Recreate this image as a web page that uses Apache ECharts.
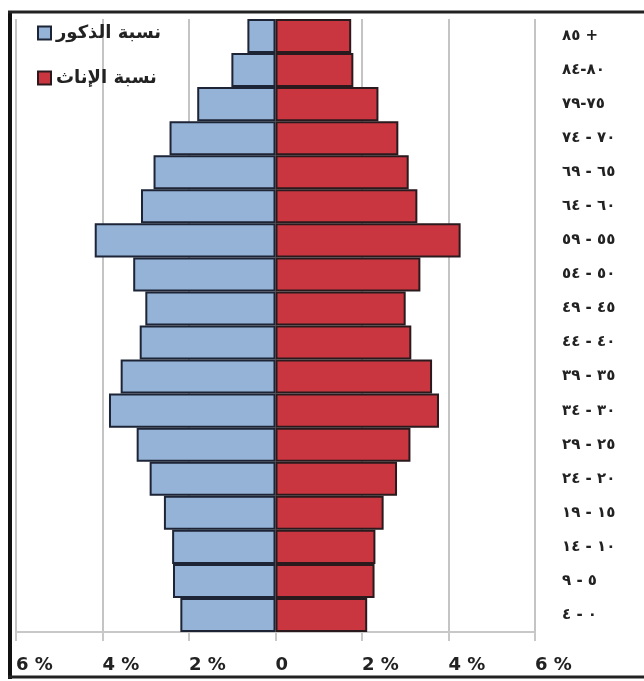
<!DOCTYPE html>
<html>
<head>
<meta charset="utf-8">
<script src="https://cdn.jsdelivr.net/npm/echarts@6/dist/echarts.min.js"></script>
<style>
  html, body { margin: 0; padding: 0; background: #fff; }
  #pyramid { width: 644px; height: 681px; }
</style>
</head>
<body>
<div id="pyramid"></div>
<script>
// age groups, bottom to top
const ageGroups = ["٤ - ٠", "٩ - ٥", "١٤ - ١٠", "١٩ - ١٥", "٢٤ - ٢٠", "٢٩ - ٢٥", "٣٤ - ٣٠", "٣٩ - ٣٥", "٤٤ - ٤٠",
  "٤٩ - ٤٥", "٥٤ - ٥٠", "٥٩ - ٥٥", "٦٤ - ٦٠", "٦٩ - ٦٥", "٧٤ - ٧٠", "٧٩-٧٥", "٨٤-٨٠", "٨٥ +"];
const maleShare = [2.20, 2.37, 2.39, 2.58, 2.91, 3.21, 3.85, 3.58, 3.14, 3.01, 3.29, 4.18, 3.11, 2.82, 2.45, 1.81, 1.02, 0.65];
const femaleShare = [2.12, 2.29, 2.31, 2.50, 2.81, 3.12, 3.78, 3.62, 3.14, 3.01, 3.35, 4.28, 3.28, 3.08, 2.84, 2.38, 1.80, 1.75];
const xTicks = [-6, -4, -2, 0, 2, 4, 6];

const maleName = "نسبة الذكور";
const femaleName = "نسبة الإناث";
const font = "'DejaVu Sans', sans-serif";
const LRM = "\u200E"; // keeps "74 - 70" in left-to-right order on canvas

let chart = echarts.init(document.getElementById("pyramid"));
let option = {
  animation: false,
  textStyle: { fontFamily: font },
  legend: {
    orient: "vertical",
    left: 32,
    top: 19,
    itemGap: 27,
    itemWidth: 13,
    itemHeight: 13,
    icon: "rect",
    textStyle: { fontSize: 18, fontWeight: "bold", color: "#222", fontFamily: font },
    data: [maleName, femaleName]
  },
  grid: { left: 16, right: 109, top: 19, bottom: 49 },
  xAxis: {
    type: "value",
    min: xTicks[0],
    max: xTicks[xTicks.length - 1],
    interval: 2,
    axisLine: { show: true, onZero: false, lineStyle: { color: "#c8c8c8", width: 2 } },
    axisTick: { show: true, length: 9, lineStyle: { color: "#c8c8c8", width: 2 } },
    splitLine: { show: true, lineStyle: { color: "#c4c4c4", width: 2 } },
    axisLabel: {
      margin: 24,
      fontSize: 18,
      fontWeight: "bold",
      color: "#222",
      align: "left",
      formatter: (v) => (v === 0 ? "0" : Math.abs(v) + " %")
    }
  },
  yAxis: {
    type: "category",
    position: "right",
    data: ageGroups,
    axisLine: { show: false },
    axisTick: { show: false },
    axisLabel: {
      align: "left",
      margin: 27,
      fontSize: 15,
      fontWeight: "bold",
      color: "#222",
      formatter: (v) => LRM + v.replace(/([-+])/g, LRM + "$1" + LRM) + LRM
    }
  },
  series: [
    {
      name: maleName,
      type: "bar",
      stack: "pop",
      barCategoryGap: 0,
      data: maleShare.map((v) => -v),
      itemStyle: { color: "#95b3d7", borderColor: "#1d2436", borderWidth: 2 }
    },
    {
      name: femaleName,
      type: "bar",
      stack: "pop",
      barCategoryGap: 0,
      data: femaleShare,
      itemStyle: { color: "#c9363f", borderColor: "#2a1a1e", borderWidth: 2 }
    }
  ],
  graphic: [
    // frame around the figure
    { type: "line", z: 100, shape: { x1: 10, y1: 11, x2: 10, y2: 679 }, style: { stroke: "#111", lineWidth: 4 } },
    { type: "line", z: 100, shape: { x1: 8, y1: 12, x2: 644, y2: 12 }, style: { stroke: "#222", lineWidth: 3 } },
    { type: "line", z: 100, shape: { x1: 8, y1: 677, x2: 644, y2: 677 }, style: { stroke: "#222", lineWidth: 3 } }
  ]
};
chart.setOption(option);
</script>
</body>
</html>
